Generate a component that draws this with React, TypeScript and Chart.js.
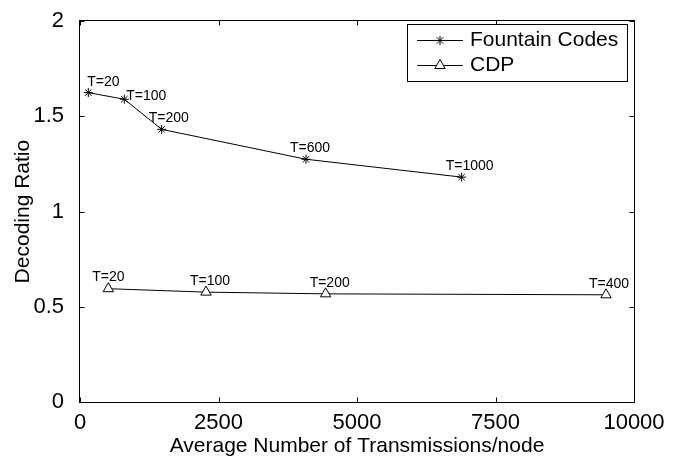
import React, { useEffect, useRef } from "react";
import { Chart, registerables } from "chart.js";
import { drawPoint } from "chart.js/helpers";

Chart.register(...registerables);

const seriesNames = ["Fountain Codes", "CDP"];
const fountainX = [150, 800, 1474, 4079, 6889];
const fountainY = [1.625, 1.59, 1.432, 1.275, 1.181];
const fountainT = ["T=20", "T=100", "T=200", "T=600", "T=1000"];
const cdpX = [511, 2274, 4434, 9495];
const cdpY = [0.595, 0.577, 0.568, 0.563];
const cdpT = ["T=20", "T=100", "T=200", "T=400"];
const xTicks = [0, 2500, 5000, 7500, 10000];
const yTicks = [0, 0.5, 1, 1.5, 2];
const xTitle = "Average Number of Transmissions/node";
const yTitle = "Decoding Ratio";

// annotation offsets (pixels) relative to each point
const fountainLabelOffsets = [[-1, -7], [2, 1], [-13, -7], [-16, -7], [-16, -7]];
const cdpLabelOffsets = [[-16, -8], [-16, -7], [-16, -7], [-17, -7]];

const FONT = "'Liberation Sans', Arial, Helvetica, sans-serif";

const decor = {
  id: "decor",
  afterDraw(chart: any) {
    const { ctx, chartArea: a, scales } = chart;
    const xs = scales.x;
    const ys = scales.y;
    ctx.save();
    ctx.strokeStyle = "#000";
    ctx.lineWidth = 1;
    const L = Math.round(a.left) - 0.5;
    const R = Math.round(a.right) + 0.5;
    const T = Math.round(a.top) - 0.5;
    const B = Math.round(a.bottom) + 0.5;
    ctx.strokeRect(L, T, R - L, B - T);
    const tl = 5;
    ctx.beginPath();
    xTicks.forEach((v) => {
      const px = Math.round(xs.getPixelForValue(v)) + 0.5;
      ctx.moveTo(px, B);
      ctx.lineTo(px, B - tl);
      ctx.moveTo(px, T);
      ctx.lineTo(px, T + tl);
    });
    yTicks.forEach((v) => {
      const py = Math.round(ys.getPixelForValue(v)) + 0.5;
      ctx.moveTo(L, py);
      ctx.lineTo(L + tl, py);
      ctx.moveTo(R, py);
      ctx.lineTo(R - tl, py);
    });
    ctx.stroke();

    // point annotations
    ctx.fillStyle = "#000";
    ctx.font = `14px ${FONT}`;
    ctx.textBaseline = "alphabetic";
    ctx.textAlign = "left";
    fountainT.forEach((t, i) => {
      const px = xs.getPixelForValue(fountainX[i]);
      const py = ys.getPixelForValue(fountainY[i]);
      ctx.fillText(t, px + fountainLabelOffsets[i][0], py + fountainLabelOffsets[i][1]);
    });
    cdpT.forEach((t, i) => {
      const px = xs.getPixelForValue(cdpX[i]);
      const py = ys.getPixelForValue(cdpY[i]);
      ctx.fillText(t, px + cdpLabelOffsets[i][0], py + cdpLabelOffsets[i][1]);
    });

    // legend
    const bx = 407.5, by = 24.5, bw = 220, bh = 57;
    ctx.fillStyle = "#fff";
    ctx.fillRect(bx, by, bw, bh);
    ctx.strokeStyle = "#000";
    ctx.strokeRect(bx, by, bw, bh);
    const rows = [40.5, 65.5];
    chart.data.datasets.forEach((ds: any, i: number) => {
      const y = rows[i];
      ctx.beginPath();
      ctx.strokeStyle = "#000";
      ctx.lineWidth = 1;
      ctx.moveTo(417, y);
      ctx.lineTo(463, y);
      ctx.stroke();
      ctx.fillStyle = ds.pointBackgroundColor;
      ctx.strokeStyle = "#000";
      drawPoint(ctx, { pointStyle: ds.pointStyle, radius: ds.pointRadius, rotation: 0, borderWidth: 1 }, 440, y);
      ctx.fillStyle = "#000";
      ctx.font = `21px ${FONT}`;
      ctx.textBaseline = "middle";
      ctx.textAlign = "left";
      ctx.fillText(ds.label, 470, y);
    });
    ctx.restore();
  },
};

export default function App() {
  const ref = useRef<HTMLCanvasElement | null>(null);
  useEffect(() => {
    if (!ref.current) return;
    const chart = new Chart(ref.current, {
      type: "line",
      data: {
        datasets: [
          {
            label: seriesNames[0],
            data: fountainX.map((x, i) => ({ x, y: fountainY[i] })),
            borderColor: "#000",
            borderWidth: 1,
            pointStyle: "star",
            pointRadius: 4.5,
            pointBorderColor: "#000",
            pointBackgroundColor: "#000",
            pointBorderWidth: 1,
            fill: false,
            tension: 0,
          },
          {
            label: seriesNames[1],
            data: cdpX.map((x, i) => ({ x, y: cdpY[i] })),
            borderColor: "#000",
            borderWidth: 1,
            pointStyle: "triangle",
            pointRadius: 6,
            pointBorderColor: "#000",
            pointBackgroundColor: "#fff",
            pointBorderWidth: 1,
            fill: false,
            tension: 0,
          },
        ],
      },
      options: {
        responsive: false,
        animation: false,
        devicePixelRatio: 1,
        layout: { padding: { top: 16, right: 45, left: 0, bottom: 0 } },
        plugins: { legend: { display: false }, tooltip: { enabled: false } },
        scales: {
          x: {
            type: "linear",
            min: 0,
            max: 10000,
            grid: { display: false },
            border: { display: false },
            afterBuildTicks: (s: any) => {
              s.ticks = xTicks.map((v) => ({ value: v }));
            },
            afterFit: (s: any) => {
              s.height = 55;
            },
            ticks: {
              autoSkip: false,
              maxRotation: 0,
              padding: 0,
              color: "#000",
              font: { family: FONT, size: 22 },
              callback: (v: any) => String(v),
            },
            title: {
              display: true,
              text: xTitle,
              color: "#000",
              font: { family: FONT, size: 21, lineHeight: 1 },
              padding: { top: 0, bottom: 0.5 },
            },
          },
          y: {
            type: "linear",
            min: 0,
            max: 2,
            grid: { display: false },
            border: { display: false },
            afterBuildTicks: (s: any) => {
              s.ticks = yTicks.map((v) => ({ value: v }));
            },
            afterFit: (s: any) => {
              s.width = 80;
            },
            ticks: {
              autoSkip: false,
              padding: 8,
              color: "#000",
              font: { family: FONT, size: 22 },
              callback: (v: any) => String(v),
            },
            title: {
              display: true,
              text: yTitle,
              color: "#000",
              font: { family: FONT, size: 21 },
              padding: { top: 11, bottom: 0 },
            },
          },
        },
      },
      plugins: [decor],
    });
    return () => chart.destroy();
  }, []);
  return (
    <div style={{ position: "fixed", left: 0, top: 0, width: 679, height: 457, background: "#fff" }}>
      <canvas ref={ref} width={679} height={457} style={{ display: "block" }} />
    </div>
  );
}
